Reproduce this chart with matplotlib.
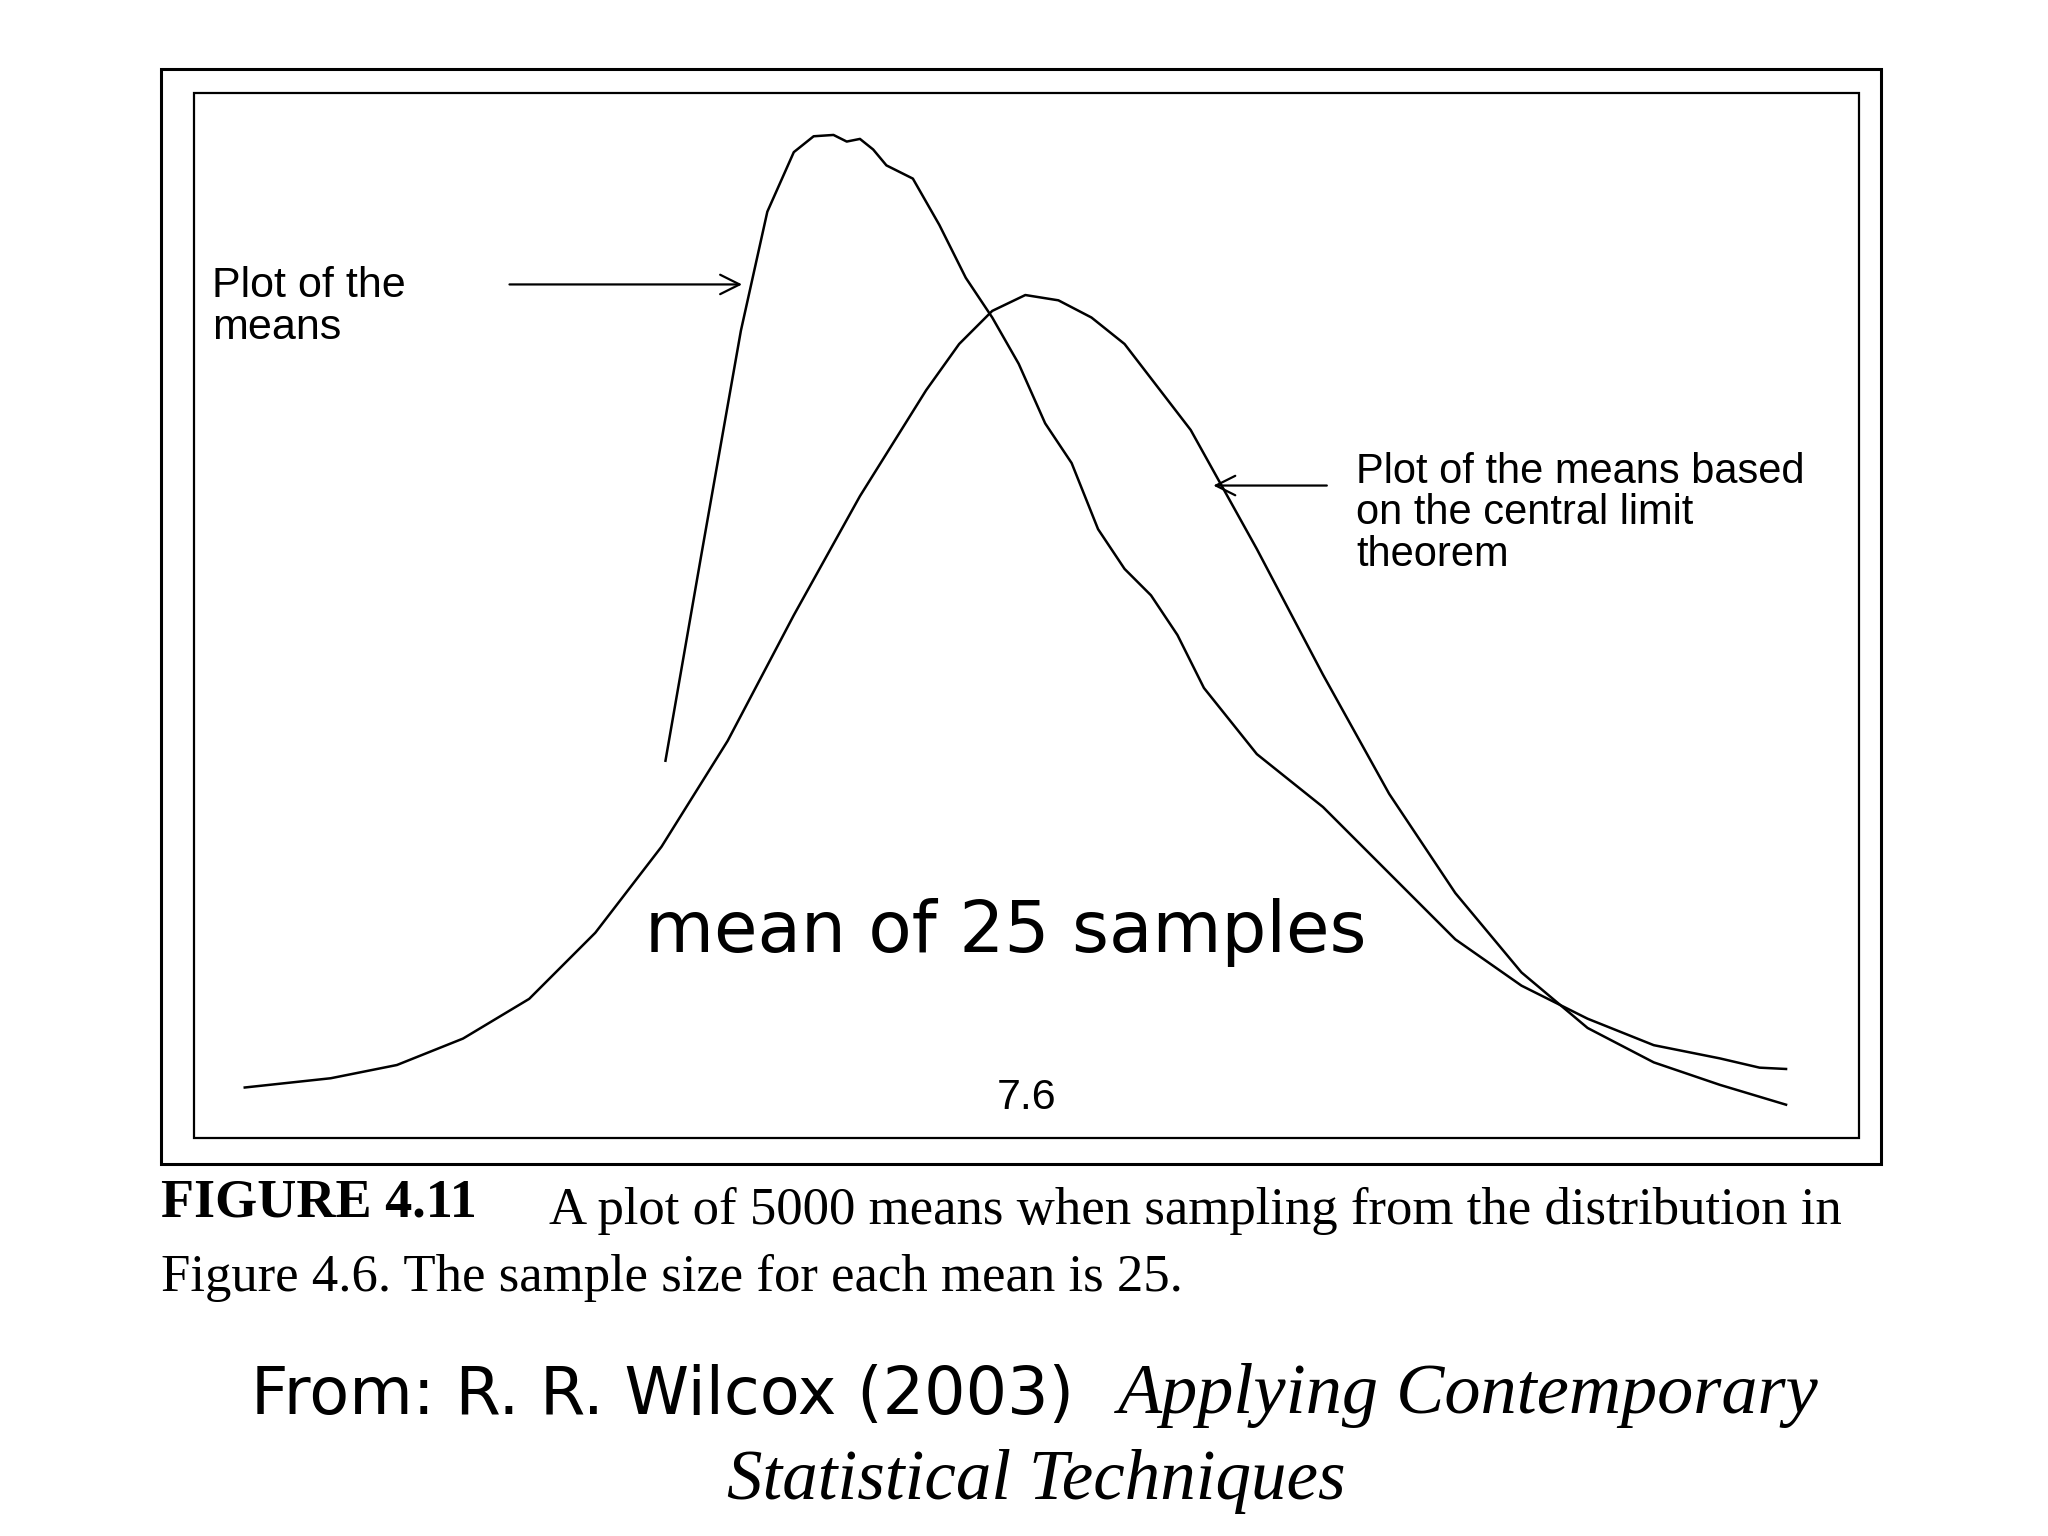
import matplotlib
matplotlib.use("Agg")
import matplotlib.pyplot as plt
from matplotlib.patches import Rectangle

# Data (x in plot units, heights of curves)
clt_x = [185,250,300,350,400,450,500,550,600,650,700,725,750,775,800,825,850,900,950,1000,1050,1100,1150,1200,1250,1300,1350]
clt_h = [13,20,30,50,80,130,195,275,370,460,540,575,600,612,608,595,575,510,420,325,235,160,100,58,32,15,0]
smp_x = [503,530,560,580,600,615,630,640,650,660,670,690,710,730,750,770,790,810,830,850,870,890,910,950,1000,1050,1100,1150,1200,1250,1300,1330,1350]
smp_h = [260,415,585,675,720,732,733,728,730,722,710,700,665,625,595,560,515,485,435,405,385,355,315,265,225,175,125,90,65,45,35,28,27]
center_label = "7.6"

BASE = 835
fig = plt.figure(figsize=(20.48, 15.36), dpi=100)
ax = fig.add_axes([0, 0, 1, 1])
ax.set_xlim(0, 1548); ax.set_ylim(1161, 0); ax.axis("off")

ax.add_patch(Rectangle((122, 52), 1300, 828, fill=False, lw=2.2, ec="black"))
ax.add_patch(Rectangle((147, 70), 1258, 790, fill=False, lw=1.6, ec="black"))

ax.plot(clt_x, [BASE - h for h in clt_h], color="black", lw=1.8)
ax.plot(smp_x, [BASE - h for h in smp_h], color="black", lw=1.8)

sans = "Liberation Sans"
ax.text(160, 232, "Plot of the\nmeans", fontsize=31, family=sans, va="center", ha="left", linespacing=1.05)
ax.annotate("", xy=(563, 215), xytext=(383, 215),
            arrowprops=dict(arrowstyle="->", lw=1.6, mutation_scale=35, color="black"))
ax.text(1025, 388, "Plot of the means based\non the central limit\ntheorem", fontsize=30, family=sans,
        va="center", ha="left", linespacing=1.05)
ax.annotate("", xy=(915, 367), xytext=(1005, 367),
            arrowprops=dict(arrowstyle="->", lw=1.6, mutation_scale=35, color="black"))
ax.text(776, 830, center_label, fontsize=31, family=sans, ha="center", va="center")
ax.text(760, 705, "mean of 25 samples", fontsize=51, family="DejaVu Sans", ha="center", va="center")

serif = "Liberation Serif"
ax.text(122, 910, "FIGURE 4.11", fontsize=39, family=serif, weight="bold", va="center")
ax.text(415, 915, "A plot of 5000 means when sampling from the distribution in",
        fontsize=38, family=serif, va="center")
ax.text(122, 966, "Figure 4.6. The sample size for each mean is 25.", fontsize=38, family=serif, va="center")

ax.text(190, 1055, "From: R. R. Wilcox (2003)", fontsize=47, family="DejaVu Sans", va="center")
ax.text(845, 1055, "Applying Contemporary", fontsize=52, family=serif, style="italic", va="center")
ax.text(783, 1120, "Statistical Techniques", fontsize=51, family=serif, style="italic", va="center", ha="center")

fig.savefig("out.png", dpi=100, facecolor="white")
